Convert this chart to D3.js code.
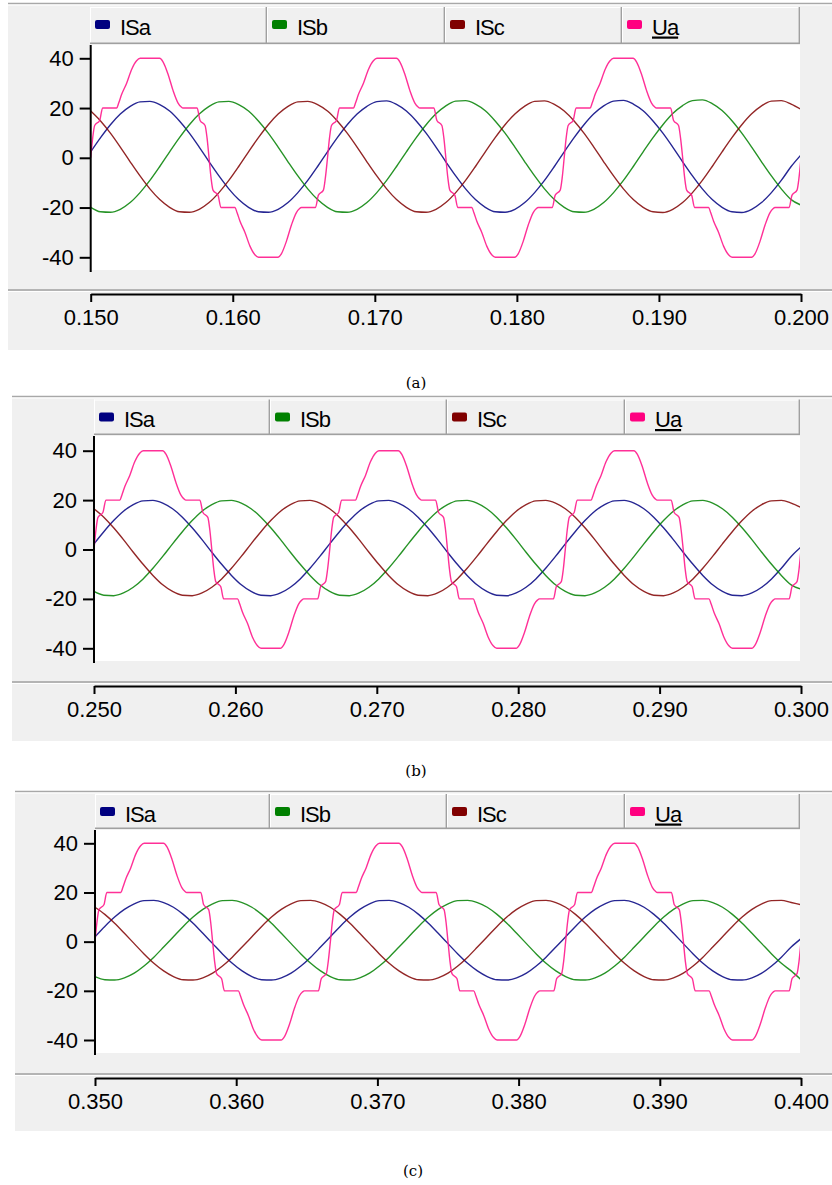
<!DOCTYPE html>
<html>
<head>
<meta charset="utf-8">
<script src="https://cdn.jsdelivr.net/npm/d3@7/dist/d3.min.js"></script>
<style>
  html, body { margin: 0; padding: 0; background: #ffffff; }
  svg { display: block; }
</style>
</head>
<body>
<script>
// ---------------- DATA ----------------
const seriesNames = ["ISa", "ISb", "ISc", "Ua"];
const seriesColors = ["#000080", "#008000", "#800000", "#ff0080"];
const yTickValues = [40, 20, 0, -20, -40];
const xTickOffsetsMs = [0, 10, 20, 30, 40, 50];
const xTickLabelsA = ["0.150", "0.160", "0.170", "0.180", "0.190", "0.200"];
const xTickLabelsB = ["0.250", "0.260", "0.270", "0.280", "0.290", "0.300"];
const xTickLabelsC = ["0.350", "0.360", "0.370", "0.380", "0.390", "0.400"];
const captions = ["(a)", "(b)", "(c)"];

// current samples: 73 equally spaced samples over the 50 ms window
const currentSampleCount = 73;

const isaA = [2.4, 8.1, 13.3, 17.6, 20.7, 22.5, 22.7, 21.4, 18.8, 14.8, 9.9, 4.3, -1.6, -7.3, -12.5, -16.8, -19.9, -21.7, -21.9, -20.7, -18.0, -14.0, -9.1, -3.5,
  2.4, 8.1, 13.3, 17.6, 20.7, 22.6, 22.9, 21.5, 18.8, 14.8, 9.9, 4.3, -1.6, -7.3, -12.5, -16.8, -19.9, -21.7, -21.9, -20.7, -18.0, -14.0, -9.1, -3.5,
  2.4, 8.1, 13.3, 17.7, 20.9, 22.8, 23.1, 21.6, 18.9, 14.8, 9.9, 4.3, -1.6, -7.3, -12.5, -16.8, -19.9, -21.7, -22.0, -20.7, -18.0, -14.0, -9.1, -3.5, 1.2];
const isbA = [-19.9, -21.7, -21.9, -20.7, -18.0, -14.0, -9.1, -3.5, 2.4, 8.1, 13.3, 17.6, 20.7, 22.5, 22.7, 21.4, 18.8, 14.8, 9.9, 4.3, -1.6, -7.3, -12.5, -16.8,
  -19.9, -21.7, -21.9, -20.7, -18.0, -14.0, -9.1, -3.5, 2.4, 8.1, 13.3, 17.7, 20.9, 22.8, 23.0, 21.6, 18.9, 14.8, 9.9, 4.3, -1.6, -7.3, -12.5, -16.8,
  -19.9, -21.7, -21.9, -20.7, -18.0, -14.0, -9.1, -3.5, 2.4, 8.1, 13.3, 17.8, 21.0, 23.0, 23.3, 21.8, 19.0, 14.9, 9.9, 4.3, -1.6, -7.3, -12.5, -16.8, -19.0];
const iscA = [18.8, 14.8, 9.9, 4.3, -1.6, -7.3, -12.5, -16.8, -19.9, -21.7, -21.9, -20.7, -18.0, -14.0, -9.1, -3.5, 2.4, 8.1, 13.3, 17.6, 20.7, 22.5, 22.7, 21.4,
  18.8, 14.8, 9.9, 4.3, -1.6, -7.3, -12.5, -16.8, -19.9, -21.7, -21.9, -20.7, -18.0, -14.0, -9.1, -3.5, 2.4, 8.1, 13.3, 17.6, 20.8, 22.7, 22.9, 21.5,
  18.8, 14.8, 9.9, 4.3, -1.6, -7.3, -12.5, -16.8, -19.9, -21.7, -22.0, -20.7, -18.0, -14.0, -9.1, -3.5, 2.4, 8.1, 13.3, 17.7, 20.9, 22.8, 23.0, 21.6, 19.5];

const isaB = [2.3, 7.2, 11.7, 15.5, 18.2, 19.7, 19.9, 18.8, 16.5, 13.1, 8.8, 4.0, -1.1, -6.0, -10.5, -14.3, -17.0, -18.5, -18.7, -17.6, -15.3, -11.9, -7.6, -2.8,
  2.3, 7.2, 11.7, 15.5, 18.2, 19.7, 19.9, 18.8, 16.5, 13.1, 8.8, 4.0, -1.1, -6.0, -10.5, -14.3, -17.0, -18.5, -18.7, -17.6, -15.3, -11.9, -7.6, -2.8,
  2.3, 7.2, 11.7, 15.5, 18.2, 19.7, 19.9, 18.8, 16.5, 13.1, 8.8, 4.0, -1.1, -6.0, -10.5, -14.3, -17.0, -18.5, -18.7, -17.6, -15.3, -11.9, -7.6, -2.8, 1.0];
const isbB = [-17.0, -18.5, -18.7, -17.6, -15.3, -11.9, -7.6, -2.8, 2.3, 7.2, 11.7, 15.5, 18.2, 19.7, 19.9, 18.8, 16.5, 13.1, 8.8, 4.0, -1.1, -6.0, -10.5, -14.3,
  -17.0, -18.5, -18.7, -17.6, -15.3, -11.9, -7.6, -2.8, 2.3, 7.2, 11.7, 15.5, 18.2, 19.7, 19.9, 18.8, 16.5, 13.1, 8.8, 4.0, -1.1, -6.0, -10.5, -14.3,
  -17.0, -18.5, -18.7, -17.6, -15.3, -11.9, -7.6, -2.8, 2.3, 7.2, 11.7, 15.5, 18.2, 19.7, 19.9, 18.8, 16.5, 13.1, 8.8, 4.0, -1.1, -6.0, -10.5, -14.3, -16.0];
const iscB = [16.5, 13.1, 8.8, 4.0, -1.1, -6.0, -10.5, -14.3, -17.0, -18.5, -18.7, -17.6, -15.3, -11.9, -7.6, -2.8, 2.3, 7.2, 11.7, 15.5, 18.2, 19.7, 19.9, 18.8,
  16.5, 13.1, 8.8, 4.0, -1.1, -6.0, -10.5, -14.3, -17.0, -18.5, -18.7, -17.6, -15.3, -11.9, -7.6, -2.8, 2.3, 7.2, 11.7, 15.5, 18.2, 19.7, 19.9, 18.8,
  16.5, 13.1, 8.8, 4.0, -1.1, -6.0, -10.5, -14.3, -17.0, -18.5, -18.7, -17.6, -15.3, -11.9, -7.6, -2.8, 2.3, 7.2, 11.7, 15.5, 18.2, 19.7, 19.9, 18.8, 17.0];

const isaC = [2.0, 6.2, 10.0, 13.1, 15.4, 16.7, 16.8, 15.9, 14.0, 11.1, 7.5, 3.4, -0.8, -5.0, -8.8, -11.9, -14.2, -15.5, -15.6, -14.7, -12.8, -9.9, -6.3, -2.2,
  2.0, 6.2, 10.0, 13.1, 15.4, 16.7, 16.8, 15.9, 14.0, 11.1, 7.5, 3.4, -0.8, -5.0, -8.8, -11.9, -14.2, -15.5, -15.6, -14.7, -12.8, -9.9, -6.3, -2.2,
  2.0, 6.2, 10.0, 13.1, 15.4, 16.7, 16.8, 15.9, 14.0, 11.1, 7.5, 3.4, -0.8, -5.0, -8.8, -11.9, -14.2, -15.5, -15.6, -14.7, -12.8, -9.9, -6.3, -2.2, 1.2];
const isbC = [-14.2, -15.5, -15.6, -14.7, -12.8, -9.9, -6.3, -2.2, 2.0, 6.2, 10.0, 13.1, 15.4, 16.7, 16.8, 15.9, 14.0, 11.1, 7.5, 3.4, -0.8, -5.0, -8.8, -11.9,
  -14.2, -15.5, -15.6, -14.7, -12.8, -9.9, -6.3, -2.2, 2.0, 6.2, 10.0, 13.1, 15.4, 16.7, 16.8, 15.9, 14.0, 11.1, 7.5, 3.4, -0.8, -5.0, -8.8, -11.9,
  -14.2, -15.5, -15.6, -14.7, -12.8, -9.9, -6.3, -2.2, 2.0, 6.2, 10.0, 13.1, 15.4, 16.7, 16.8, 15.9, 14.0, 11.1, 7.5, 3.4, -0.8, -5.0, -8.8, -11.9, -15.5];
const iscC = [14.0, 11.1, 7.5, 3.4, -0.8, -5.0, -8.8, -11.9, -14.2, -15.5, -15.6, -14.7, -12.8, -9.9, -6.3, -2.2, 2.0, 6.2, 10.0, 13.1, 15.4, 16.7, 16.8, 15.9,
  14.0, 11.1, 7.5, 3.4, -0.8, -5.0, -8.8, -11.9, -14.2, -15.5, -15.6, -14.7, -12.8, -9.9, -6.3, -2.2, 2.0, 6.2, 10.0, 13.1, 15.4, 16.7, 16.8, 15.9,
  14.0, 11.1, 7.5, 3.4, -0.8, -5.0, -8.8, -11.9, -14.2, -15.5, -15.6, -14.7, -12.8, -9.9, -6.3, -2.2, 2.0, 6.2, 10.0, 13.1, 15.4, 16.7, 16.8, 15.9, 15.0];

// Ua breakpoints (ms from window start) — same waveform in all three windows
const uaTimesMs = [
  0.00, 0.14, 0.28, 0.63, 0.84, 1.83, 1.97, 2.18, 2.53, 2.88, 3.23, 3.48, 4.85, 5.10, 5.45, 5.80, 6.15, 6.36, 6.50, 7.49, 7.70, 8.05, 8.19,
  8.33, 8.47, 8.61, 8.96, 9.17, 10.16, 10.30, 10.51, 10.86, 11.21, 11.56, 11.81, 13.18, 13.43, 13.78, 14.13, 14.48, 14.69, 14.83, 15.82, 16.03, 16.38, 16.52,
  16.67, 16.81, 16.95, 17.30, 17.51, 18.50, 18.64, 18.85, 19.20, 19.55, 19.90, 20.15, 21.52, 21.77, 22.12, 22.47, 22.82, 23.03, 23.17, 24.16, 24.37, 24.72, 24.86,
  25.00, 25.14, 25.28, 25.63, 25.84, 26.83, 26.97, 27.18, 27.53, 27.88, 28.23, 28.48, 29.85, 30.10, 30.45, 30.80, 31.15, 31.36, 31.50, 32.49, 32.70, 33.05, 33.19,
  33.33, 33.47, 33.61, 33.96, 34.17, 35.16, 35.30, 35.51, 35.86, 36.21, 36.56, 36.81, 38.18, 38.43, 38.78, 39.13, 39.48, 39.69, 39.83, 40.82, 41.03, 41.38, 41.52,
  41.67, 41.81, 41.95, 42.30, 42.51, 43.50, 43.64, 43.85, 44.20, 44.55, 44.90, 45.15, 46.52, 46.77, 47.12, 47.47, 47.82, 48.03, 48.17, 49.16, 49.37, 49.72, 49.86,
  50.00];
const uaValues = [
  0, 8, 13, 15, 20, 20, 22, 25.5, 30, 35.5, 39, 40, 40, 38.5, 33.5, 27, 22, 20.5, 20, 20, 15, 13, 8,
  0, -8, -13, -15, -20, -20, -22, -25.5, -30, -35.5, -39, -40, -40, -38.5, -33.5, -27, -22, -20.5, -20, -20, -15, -13, -8,
  0, 8, 13, 15, 20, 20, 22, 25.5, 30, 35.5, 39, 40, 40, 38.5, 33.5, 27, 22, 20.5, 20, 20, 15, 13, 8,
  0, -8, -13, -15, -20, -20, -22, -25.5, -30, -35.5, -39, -40, -40, -38.5, -33.5, -27, -22, -20.5, -20, -20, -15, -13, -8,
  0, 8, 13, 15, 20, 20, 22, 25.5, 30, 35.5, 39, 40, 40, 38.5, 33.5, 27, 22, 20.5, 20, 20, 15, 13, 8,
  0, -8, -13, -15, -20, -20, -22, -25.5, -30, -35.5, -39, -40, -40, -38.5, -33.5, -27, -22, -20.5, -20, -20, -15, -13, -8,
  0];

const panelSeries = [
  { isa: isaA, isb: isbA, isc: iscA, ticks: xTickLabelsA },
  { isa: isaB, isb: isbB, isc: iscB, ticks: xTickLabelsB },
  { isa: isaC, isb: isbC, isc: iscC, ticks: xTickLabelsC }
];

// ---------------- LAYOUT ----------------
const W = 832, H = 1185;
const layouts = [
  { top: 3, left: 8, bottom: 350, plotL: 90.7, plotR: 800, xEnd: 801, plotTop: 45, plotBottom: 270, y40: 58.3, yM40: 257.3,
    legTop: 7, legBot: 44, cells: [90, 267, 445, 622, 800], sepY: 290, axisY: 294, captionY: 388, captionX: 416 },
  { top: 396, left: 12, bottom: 741, plotL: 94, plotR: 800, xEnd: 801, plotTop: 436, plotBottom: 661, y40: 450.7, yM40: 648.3,
    legTop: 399.5, legBot: 435, cells: [94, 270, 447, 625, 800], sepY: 682, axisY: 686, captionY: 776, captionX: 416 },
  { top: 791, left: 15, bottom: 1131, plotL: 95, plotR: 800, xEnd: 801, plotTop: 830, plotBottom: 1053, y40: 843.3, yM40: 1040,
    legTop: 794, legBot: 829, cells: [95, 270, 447, 625, 800], sepY: 1074, axisY: 1078, captionY: 1176, captionX: 413 }
];

const FONT = "'Liberation Sans', Arial, Helvetica, sans-serif";
const svg = d3.select("body").append("svg").attr("width", W).attr("height", H);
svg.append("rect").attr("width", W).attr("height", H).attr("fill", "#ffffff");

layouts.forEach((L, pi) => {
  const S = panelSeries[pi];
  const g = svg.append("g");

  // panel background
  g.append("rect").attr("x", L.left).attr("y", L.top).attr("width", W - L.left).attr("height", L.bottom - L.top).attr("fill", "#f0f0f0");
  g.append("line").attr("x1", L.left).attr("x2", W).attr("y1", L.top + 0.5).attr("y2", L.top + 0.5).attr("stroke", "#a8a8a8").attr("stroke-width", 1.5);
  g.append("line").attr("x1", L.left).attr("x2", W).attr("y1", L.top + 2).attr("y2", L.top + 2).attr("stroke", "#ffffff").attr("stroke-width", 1);

  // legend cells
  seriesNames.forEach((name, i) => {
    const x0 = L.cells[i], x1 = L.cells[i + 1];
    const cg = g.append("g");
    cg.append("rect").attr("x", x0).attr("y", L.legTop).attr("width", x1 - x0).attr("height", L.legBot - L.legTop).attr("fill", "#f0f0f0");
    cg.append("line").attr("x1", x0).attr("x2", x1).attr("y1", L.legTop + 0.5).attr("y2", L.legTop + 0.5).attr("stroke", "#ffffff");
    cg.append("line").attr("x1", x0 + 0.5).attr("x2", x0 + 0.5).attr("y1", L.legTop).attr("y2", L.legBot).attr("stroke", "#ffffff");
    cg.append("line").attr("x1", x1 - 0.7).attr("x2", x1 - 0.7).attr("y1", L.legTop).attr("y2", L.legBot).attr("stroke", "#a0a0a0").attr("stroke-width", 1.4);
    cg.append("line").attr("x1", x0).attr("x2", x1).attr("y1", L.legBot - 0.7).attr("y2", L.legBot - 0.7).attr("stroke", "#a0a0a0").attr("stroke-width", 1.4);
    cg.append("rect").attr("x", x0 + 5).attr("y", L.legTop + 13).attr("width", 15).attr("height", 9).attr("rx", 2)
      .attr("fill", seriesColors[i]);
    cg.append("text").attr("x", x0 + 30).attr("y", L.legTop + 27.5)
      .attr("font-family", FONT).attr("font-size", 22).attr("letter-spacing", -1)
      .attr("fill", "#000").attr("text-decoration", name === "Ua" ? "underline" : null)
      .text(name);
  });

  // plot area
  g.append("rect").attr("x", L.plotL).attr("y", L.plotTop).attr("width", L.plotR - L.plotL).attr("height", L.plotBottom - L.plotTop).attr("fill", "#ffffff");

  const x = d3.scaleLinear().domain([0, 50]).range([L.plotL, L.xEnd]);
  const y = d3.scaleLinear().domain([-40, 40]).range([L.yM40, L.y40]);

  const clipId = "clip" + pi;
  svg.append("clipPath").attr("id", clipId).append("rect")
    .attr("x", L.plotL).attr("y", L.plotTop).attr("width", L.plotR - L.plotL).attr("height", L.plotBottom - L.plotTop);

  const lg = g.append("g").attr("clip-path", `url(#${clipId})`);
  const step = 50 / (currentSampleCount - 1);
  const line = d3.line().x(d => x(d[0])).y(d => y(d[1])).curve(d3.curveMonotoneX);
  const currents = [S.isa, S.isb, S.isc];
  currents.forEach((arr, si) => {
    const pts = arr.map((v, k) => [k * step, v]);
    lg.append("path").attr("d", line(pts)).attr("fill", "none")
      .attr("stroke", seriesColors[si]).attr("stroke-width", 1.4).attr("stroke-opacity", 0.85);
  });
  const uaPts = uaTimesMs.map((t, k) => [t, uaValues[k]]);
  lg.append("path").attr("d", line(uaPts)).attr("fill", "none")
    .attr("stroke", "#ff1a8c").attr("stroke-width", 1.4).attr("stroke-opacity", 0.9);

  // y axis
  const yAxis = d3.axisLeft(y).tickValues(yTickValues).tickSize(11).tickSizeOuter(0).tickPadding(6)
    .tickFormat(d => String(d));
  const ya = g.append("g").attr("transform", `translate(${L.plotL},0)`).call(yAxis);
  ya.select(".domain").remove();
  ya.selectAll(".tick line").attr("stroke", "#000").attr("stroke-width", 2);
  ya.selectAll(".tick text").attr("font-family", FONT).attr("font-size", 22).attr("fill", "#000");
  g.append("line").attr("x1", L.plotL).attr("x2", L.plotL).attr("y1", L.plotTop).attr("y2", L.plotBottom + 2)
    .attr("stroke", "#000").attr("stroke-width", 2);

  // separator
  g.append("line").attr("x1", L.left).attr("x2", W).attr("y1", L.sepY).attr("y2", L.sepY).attr("stroke", "#a0a0a0").attr("stroke-width", 1.3);
  g.append("line").attr("x1", L.left).attr("x2", W).attr("y1", L.sepY + 1.5).attr("y2", L.sepY + 1.5).attr("stroke", "#ffffff").attr("stroke-width", 1);

  // x axis
  const xAxis = d3.axisBottom(x).tickValues(xTickOffsetsMs).tickSize(8).tickSizeOuter(0).tickPadding(7)
    .tickFormat((d, i) => S.ticks[i]);
  const xa = g.append("g").attr("transform", `translate(0,${L.axisY})`).call(xAxis);
  xa.select(".domain").attr("stroke", "#000").attr("stroke-width", 2);
  xa.selectAll(".tick line").attr("stroke", "#000").attr("stroke-width", 2);
  xa.selectAll(".tick text").attr("font-family", FONT).attr("font-size", 22).attr("fill", "#000");

  // caption
  svg.append("text").attr("x", L.captionX).attr("y", L.captionY).attr("text-anchor", "middle")
    .attr("font-family", "'DejaVu Serif', 'Liberation Serif', serif").attr("font-size", 15).attr("fill", "#000")
    .text(captions[pi]);
});
</script>
</body>
</html>
